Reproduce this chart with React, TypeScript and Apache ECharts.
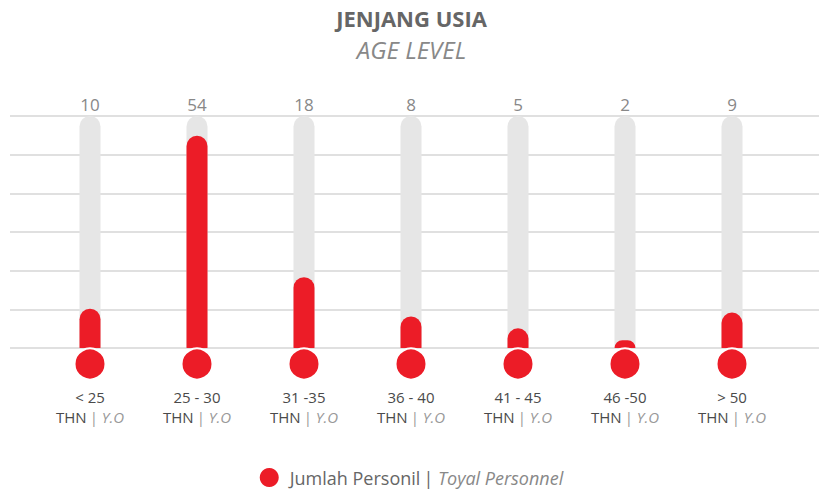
import React, { useEffect, useRef } from 'react';
import * as echarts from 'echarts';

const categories = ['< 25', '25 - 30', '31 -35', '36 - 40', '41 - 45', '46 -50', '> 50'];
const personnel = [10, 54, 18, 8, 5, 2, 9];
const unitLabel = 'THN';
const unitLabelEn = 'Y.O';
const seriesName = 'Jumlah Personil';
const seriesNameEn = 'Toyal Personnel';
const barScaleMax = 59;
const gridMax = 60;
const gridInterval = 10;

const RED = '#ec1c27';
const FONT = '"Open Sans", "Noto Sans", sans-serif';

export default function App() {
  const ref = useRef<HTMLDivElement>(null);
  useEffect(() => {
    if (!ref.current) return;
    const chart = echarts.init(ref.current, undefined, { renderer: 'svg' });
    chart.setOption({
      animation: false,
      textStyle: { fontFamily: FONT },
      title: {
        text: 'JENJANG USIA',
        subtext: 'AGE LEVEL',
        left: 'center',
        top: 2,
        itemGap: 8,
        textStyle: { fontSize: 22, fontWeight: 'bold', color: '#666', fontFamily: FONT },
        subtextStyle: { fontSize: 24, fontStyle: 'italic', color: '#888', fontFamily: FONT },
      },
      legend: {
        data: [seriesName],
        left: 'center',
        top: 463,
        icon: 'circle',
        itemWidth: 19,
        itemHeight: 19,
        formatter: () => `{a|${seriesName}} {b|| }{c|${seriesNameEn}}`,
        textStyle: {
          fontFamily: FONT,
          rich: {
            a: { color: '#666', fontSize: 18, fontFamily: FONT, padding: [0, 0, 0, 6] },
            b: { color: '#666', fontSize: 18, fontFamily: FONT },
            c: { color: '#888', fontSize: 18, fontStyle: 'italic', fontFamily: FONT },
          },
        },
      },
      grid: [
        { left: 36.5, right: 37.5, top: 116, bottom: 144 },
        { left: 10, right: 4, top: 116, bottom: 144 },
      ],
      xAxis: [
        {
          type: 'category',
          gridIndex: 0,
          data: categories,
          axisLine: { show: false },
          axisTick: { show: false },
          axisLabel: {
            margin: 39,
            interval: 0,
            formatter: (v: string) => `{a|${v}}\n{b|${unitLabel}} {c|| }{d|${unitLabelEn}}`,
            rich: {
              a: { color: '#4a4a4a', fontSize: 15, lineHeight: 20, fontFamily: FONT },
              b: { color: '#4a4a4a', fontSize: 15, lineHeight: 20, fontFamily: FONT },
              c: { color: '#999', fontSize: 15, lineHeight: 20, fontFamily: FONT },
              d: { color: '#999', fontSize: 15, lineHeight: 20, fontStyle: 'italic', fontFamily: FONT },
            },
          },
        },
        {
          type: 'category',
          gridIndex: 0,
          position: 'top',
          data: personnel.map(String),
          axisLine: { show: false },
          axisTick: { show: false },
          axisLabel: { margin: 3, interval: 0, color: '#888', fontSize: 17, fontFamily: FONT },
        },
        { type: 'value', gridIndex: 1, show: false, min: 0, max: 1 },
      ],
      yAxis: [
        { type: 'value', gridIndex: 0, min: 0, max: barScaleMax, show: false, splitLine: { show: false } },
        {
          type: 'value',
          gridIndex: 1,
          min: 0,
          max: gridMax,
          interval: gridInterval,
          axisLabel: { show: false },
          axisLine: { show: false },
          axisTick: { show: false },
          splitLine: { show: true, lineStyle: { color: '#d6d6d6', width: 1.5 } },
        },
      ],
      series: [
        {
          name: seriesName,
          type: 'bar',
          xAxisIndex: 0,
          yAxisIndex: 0,
          data: personnel,
          barWidth: 21,
          z: 2,
          itemStyle: { color: RED, borderRadius: [10.5, 10.5, 0, 0] },
          showBackground: true,
          backgroundStyle: { color: '#e6e6e6', borderRadius: [10.5, 10.5, 0, 0] },
        },
        {
          name: 'bulb',
          type: 'scatter',
          xAxisIndex: 0,
          yAxisIndex: 0,
          data: categories.map((c) => [c, 0]),
          symbol: 'circle',
          symbolSize: 31,
          symbolOffset: [0, 16],
          clip: false,
          z: 3,
          itemStyle: { color: RED, borderColor: '#fff', borderWidth: 2, opacity: 1 },
          emphasis: { disabled: true },
        },
      ],
    });
    return () => chart.dispose();
  }, []);
  return <div ref={ref} style={{ position: 'absolute', left: 0, top: 0, width: 823, height: 492 }} />;
}
